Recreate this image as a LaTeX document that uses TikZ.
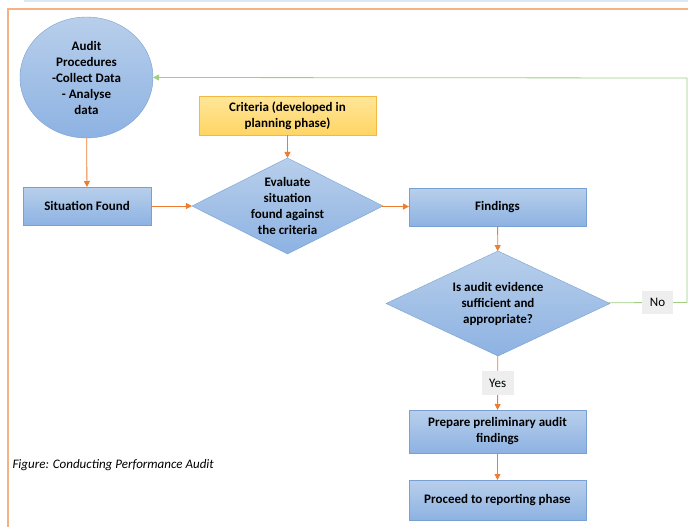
\documentclass[tikz,border=0pt]{standalone}
\usepackage{fontspec}
\setmainfont{Carlito}
\usetikzlibrary{shapes.geometric,arrows.meta,positioning}

\definecolor{boxtop}{RGB}{184,207,235}
\definecolor{boxbot}{RGB}{141,178,226}
\definecolor{boxline}{RGB}{120,160,210}
\definecolor{crittop}{RGB}{255,230,153}
\definecolor{critbot}{RGB}{255,213,100}
\definecolor{critline}{RGB}{244,185,66}
\definecolor{flow}{RGB}{237,125,49}
\definecolor{loop}{RGB}{160,205,130}
\definecolor{frame}{RGB}{244,177,131}
\definecolor{strip}{RGB}{221,232,245}
\definecolor{tagfill}{RGB}{238,238,238}

\tikzset{
  words/.style={font=\fontsize{13}{16}\selectfont\bfseries, align=center},
  block/.style={words, draw=boxline, top color=boxtop, bottom color=boxbot,
    inner sep=0pt, outer sep=0pt},
  box/.style={block, rectangle, minimum width=177pt},
  decision/.style={block, diamond},
  tag/.style={fill=tagfill, font=\fontsize{13}{16}\selectfont,
    inner sep=0pt, minimum width=32pt, minimum height=24pt},
  flowline/.style={draw=flow, line width=0.8pt,
    -{Triangle[length=6pt,width=6pt]}},
  loopline/.style={draw=loop, line width=0.8pt}
}

\begin{document}
\begin{tikzpicture}[x=1pt, y=-1pt]
  \useasboundingbox (0,0) rectangle (688,527);
  % page decoration
  \fill[strip] (24,0) rectangle (688,2.5);
  \draw[frame, line width=2pt] (8,527) -- (8,9) -- (688,9);

  % blocks
  \node[block, ellipse, minimum width=133pt, minimum height=121pt] (procedures) at (86.5,77.5)
    {Audit\\Procedures\\-Collect Data\\- Analyse\\data};
  \node[box, minimum width=128pt, minimum height=38pt] (situation) at (87,206) {Situation Found};
  \node[box, draw=critline, top color=crittop, bottom color=critbot,
    minimum height=39pt] (criteria) at (287.5,115.5) {Criteria (developed in\\planning phase)};
  \node[decision, minimum width=191pt, minimum height=96pt] (evaluate) at (287.5,206) {};
  \node[words] (evaluatetext) at (evaluate)
    {Evaluate\\situation\\found against\\the criteria};
  \node[box, minimum height=38pt] (findings) at (497.5,207) {Findings};
  \node[decision, minimum width=224pt, minimum height=105pt] (question) at (498,303.5) {};
  \node[words] (questiontext) at (question)
    {Is audit evidence\\sufficient and\\appropriate?};
  \node[box, minimum height=43pt] (prepare) at (497.5,431.5) {Prepare preliminary audit\\findings};
  \node[box, minimum height=40pt] (proceed) at (497.5,500) {Proceed to reporting phase};
  \node[tag, minimum width=31pt, minimum height=23pt] (no) at (657.5,302.5) {No};
  \coordinate (corner) at (687,78);

  % connectors
  \draw[flowline] (procedures) -- (situation);
  \draw[flowline] (criteria) -- (evaluate);
  \draw[flowline] (situation) -- (evaluate);
  \draw[flowline] (evaluate) -- (findings);
  \draw[flowline] (findings) -- (question);
  \draw[flowline] (question) -- node[tag] (yes) {Yes} (prepare);
  \draw[flowline] (prepare) -- (proceed);
  \draw[loopline] (question) -- (no);
  \draw[loopline, -{Triangle[length=6pt,width=6pt]}] (no) -| (corner) -- (procedures.east);

  % caption
  \node[anchor=west, font=\fontsize{13}{16}\selectfont\itshape] (caption) at (9,465)
    {Figure: Conducting Performance Audit};
\end{tikzpicture}
\end{document}
